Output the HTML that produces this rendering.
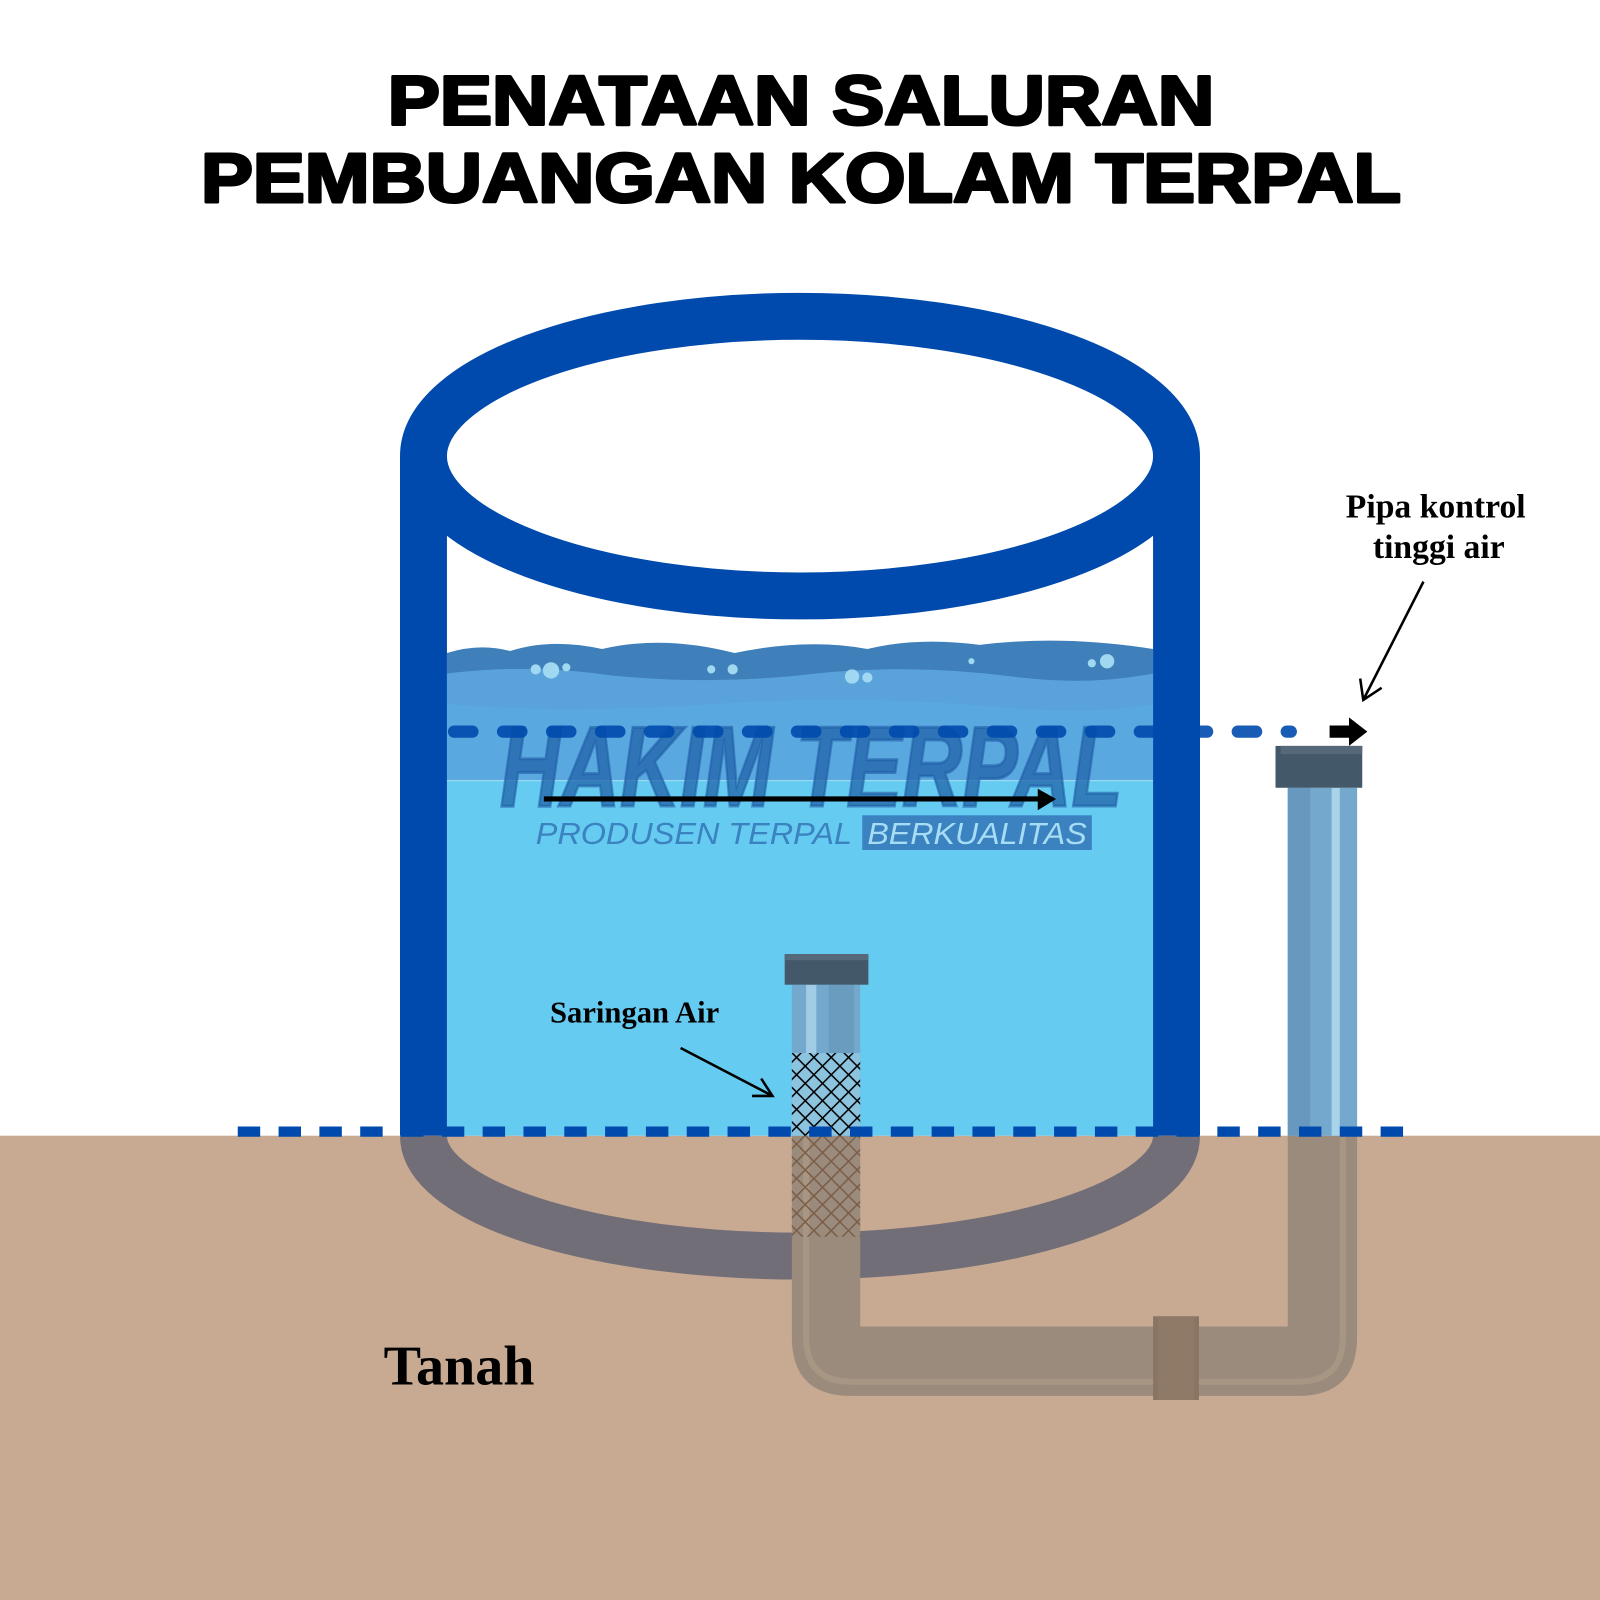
<!DOCTYPE html>
<html><head><meta charset="utf-8"><style>html,body{margin:0;padding:0;background:#fff}svg{display:block}</style></head>
<body>
<svg width="1600" height="1600" viewBox="0 0 1568 1568" xmlns="http://www.w3.org/2000/svg">
<defs>
<pattern id="mesh" width="12" height="12" patternUnits="userSpaceOnUse" patternTransform="rotate(45)">
<rect width="12" height="12" fill="none"/>
<line x1="0" y1="0" x2="0" y2="12" stroke="#000" stroke-width="3"/>
<line x1="0" y1="0" x2="12" y2="0" stroke="#000" stroke-width="3"/>
</pattern>
<pattern id="mesh2" width="12" height="12" patternUnits="userSpaceOnUse" patternTransform="rotate(45)">
<line x1="0" y1="0" x2="0" y2="12" stroke="#7a5e48" stroke-width="3"/>
<line x1="0" y1="0" x2="12" y2="0" stroke="#7a5e48" stroke-width="3"/>
</pattern>
</defs>
<rect width="1568" height="1568" fill="#fff"/>
<!-- title -->
<g font-family="Liberation Sans, sans-serif" font-weight="bold" text-anchor="middle" fill="#000" stroke="#000" stroke-width="3" stroke-linejoin="round">
<text x="785" y="122" font-size="68" textLength="810" lengthAdjust="spacingAndGlyphs">PENATAAN SALURAN</text>
<text x="785" y="198" font-size="68" textLength="1176" lengthAdjust="spacingAndGlyphs">PEMBUANGAN KOLAM TERPAL</text>
</g>
<!-- ground -->
<rect x="0" y="1113" width="1568" height="455" fill="#c8aa93"/>
<!-- water -->
<rect x="438" y="640" width="692" height="473" fill="#66cbf0"/>
<path d="M438 640 Q470 630 500 638 Q540 625 590 636 Q650 622 720 640 Q790 625 850 636 Q900 624 960 632 Q1040 622 1130 636 L1130 765 L438 765 Z" fill="#3f7fba"/>
<path d="M438 660 Q520 650 600 662 Q700 672 800 660 Q900 650 1000 664 Q1070 672 1130 660 L1130 765 L438 765 Z" fill="#5aa3da"/>
<path d="M438 690 Q560 700 700 690 Q850 680 1000 695 Q1080 700 1130 690 L1130 765 L438 765 Z" fill="#5aa8e0"/>
<g fill="#9fd8f0">
<circle cx="540" cy="657" r="8"/><circle cx="525" cy="656" r="5"/><circle cx="555" cy="654" r="4"/><circle cx="718" cy="656" r="5"/><circle cx="697" cy="656" r="4"/>
<circle cx="835" cy="663" r="7"/><circle cx="850" cy="664" r="5"/><circle cx="1085" cy="648" r="7"/><circle cx="1070" cy="650" r="4"/><circle cx="952" cy="648" r="3"/>
</g>
<line x1="438" y1="765" x2="1130" y2="765" stroke="#a8e0f5" stroke-width="1"/>
<!-- logo watermark -->
<g font-family="Liberation Sans, sans-serif" font-style="italic" font-weight="bold">
<text x="490" y="790" font-size="112" fill="#1f5fa6" fill-opacity="0.72" stroke="#1f5fa6" stroke-opacity="0.6" stroke-width="3" textLength="610" lengthAdjust="spacingAndGlyphs">HAKIM TERPAL</text>
<text x="525" y="827" font-size="30" fill="#3a82c0" textLength="310" lengthAdjust="spacingAndGlyphs" font-weight="normal">PRODUSEN TERPAL</text>
<rect x="845" y="799" width="225" height="34" fill="#3a82c0"/>
<text x="850" y="827" font-size="30" fill="#a6dcf4" font-weight="normal" textLength="215" lengthAdjust="spacingAndGlyphs">BERKUALITAS</text>
</g>
<!-- arrow in water -->
<line x1="533" y1="783" x2="1020" y2="783" stroke="#000" stroke-width="5"/>
<path d="M1017 773 L1035 783 L1017 794 Z" fill="#000"/>
<!-- tank walls -->
<rect x="392" y="447" width="46" height="666" fill="#004aad"/>
<rect x="1130" y="447" width="46" height="666" fill="#004aad"/>
<ellipse cx="784" cy="447" rx="369" ry="137" fill="none" stroke="#004aad" stroke-width="46"/>
<!-- underground bottom -->
<path d="M415 1113 A369 118 0 0 0 1153 1113" fill="none" stroke="#726e78" stroke-width="46"/>
<!-- upper dashed line -->
<line x1="445" y1="717" x2="1265" y2="717" stroke="#004aad" stroke-opacity="0.9" stroke-width="12" stroke-linecap="round" stroke-dasharray="18 30"/>
<path d="M1303 711 L1322 711 L1322 703 L1340 717 L1322 731 L1322 723 L1303 723 Z" fill="#000"/>
<!-- under-ground pipe -->
<path d="M776 1113 L776 1310 Q776 1368 834 1368 L1272 1368 Q1330 1368 1330 1310 L1330 1113 L1262 1113 L1262 1300 L843 1300 L843 1113 Z" fill="#9b8b7c"/>
<path d="M790 1113 L790 1310 Q790 1354 834 1354 L1272 1354 Q1316 1354 1316 1310 L1316 1113" fill="none" stroke="#a89684" stroke-width="6"/>
<rect x="1130" y="1290" width="45" height="82" fill="#8a7462"/>
<rect x="1135" y="1290" width="35" height="82" fill="#8f7a68"/>
<!-- filter pipe -->
<rect x="776" y="965" width="67" height="148" fill="#74a8cc"/>
<rect x="790" y="965" width="10" height="148" fill="#b3dcef" fill-opacity="0.7"/>
<rect x="812" y="965" width="25" height="148" fill="#6a9cc0"/>
<rect x="776" y="1032" width="67" height="81" fill="#8cc4e0"/>
<rect x="776" y="1032" width="67" height="81" fill="url(#mesh)"/>
<rect x="776" y="1113" width="67" height="99" fill="url(#mesh2)"/>
<rect x="769" y="935" width="82" height="30" fill="#435869"/>
<rect x="769" y="935" width="82" height="6" fill="#55697a"/>
<!-- control pipe -->
<rect x="1262" y="772" width="68" height="341" fill="#74a8cc"/>
<rect x="1262" y="772" width="22" height="341" fill="#6898bd"/>
<rect x="1305" y="772" width="8" height="341" fill="#a8d4ea"/>
<rect x="1250" y="731" width="85" height="41" fill="#435869"/>
<rect x="1255" y="731" width="80" height="8" fill="#55697a"/>
<!-- ground dashed line -->
<line x1="233" y1="1109" x2="1390" y2="1109" stroke="#004aad" stroke-width="10" stroke-dasharray="22 18"/>
<!-- labels -->
<g font-family="Liberation Serif, serif" font-weight="bold" fill="#000">
<text x="1407" y="507" font-size="33" text-anchor="middle">Pipa kontrol</text>
<text x="1410" y="547" font-size="33" text-anchor="middle">tinggi air</text>
<text x="539" y="1002" font-size="30">Saringan Air</text>
<text x="376" y="1357" font-size="55">Tanah</text>
</g>
<g stroke="#000" stroke-width="2.5" fill="none">
<line x1="1395" y1="570" x2="1336" y2="686"/>
<polyline points="1333,665 1336,686 1354,674"/>
<line x1="667" y1="1027" x2="757" y2="1074"/>
<polyline points="737,1074 757,1074 746,1057"/>
</g>
</svg>
</body></html>
